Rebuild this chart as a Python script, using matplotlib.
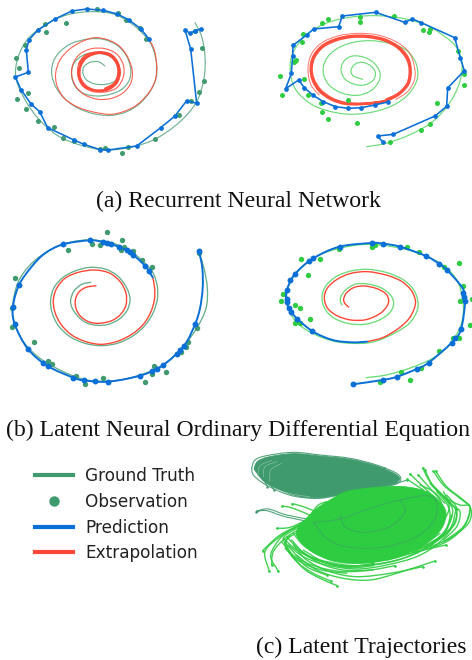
import matplotlib
matplotlib.use("Agg")
import matplotlib.pyplot as plt
import numpy as np
from matplotlib.path import Path
from matplotlib.patches import PathPatch
from matplotlib.lines import Line2D

W, H = 472, 660
DARK = "#3f9a6e"; BRIGHT = "#2ecc40"; BLUE = "#0a6fd6"; RED = "#ff4636"

captions = ["(a) Recurrent Neural Network", "(b) Latent Neural Ordinary Differential Equation", "(c) Latent Trajectories"]
legend_labels = ["Ground Truth", "Observation", "Prediction", "Extrapolation"]

# ---- panel a1 values
a1_truth = [(585,68),(605,110),(615,170),(612,235),(590,305),(540,365),(470,415),(400,440),(320,450),(240,435),(170,405),(110,350),(70,290),(47,230),(55,170),(85,115),(140,72),(200,45),(270,35),(340,42),(400,75),(445,120),(462,155),(470,195),(468,235),(450,275),(420,310),(380,335),(335,346),(285,342),(235,325),(195,297),(168,262),(155,222),(160,185),(180,155),(215,130),(265,117),(310,118),(350,135),(378,165),(392,205),(388,240),(365,268),(330,283),(290,288),(250,280),(225,258),(215,228),(218,198),(235,175),(262,161),(298,160),(332,170),(355,195),(360,222),(345,243),(318,253),(285,252),(260,240),(249,220),(252,200),(270,187),(295,185),(315,198)]
a1_pred = [(603,87),(585,92),(570,100),(555,90),(572,147),(590,310),(560,302),(525,348),(482,383),(410,438),(325,450),(300,449),(252,433),(222,420),(143,383),(119,335),(93,312),(63,269),(46,231),(85,217),(79,151),(87,119),(114,90),(165,57),(215,33),(260,27),(310,31),(352,42),(387,60),(422,86),(447,117)]
a1_extra = [(447,117),(463,150),(470,195),(466,240),(445,280),(410,315),(370,335),(330,343),(280,336),(235,322),(195,297),(172,260),(167,220),(180,180),(208,148),(245,125),(285,113),(325,120),(360,140),(385,175),(397,215),(392,250),(370,278),(335,295),(295,298),(255,285),(228,260),(215,225),(220,190),(240,162),(275,146),(315,146),(350,162),(370,195),(370,230),(352,262),(320,275),(280,275),(248,258),(233,225),(237,190),(258,165),(295,156),(330,162),(352,185),(360,218),(350,250),(322,270),(285,272),(252,258),(236,228),(240,195),(260,170),(295,158),(332,165),(353,190),(357,220),(345,250),(320,267),(285,270),(255,255),(240,228),(243,197),(262,172),(297,160),(330,168),(350,192),(354,222),(342,250),(315,265)]
a1_obs = [(47,173),(56,203),(51,296),(77,327),(114,363),(162,381),(188,415),(222,422),(300,446),(315,444),(365,460),(385,441),(465,416),(537,344),(573,303),(597,276),(612,243),(606,143),(585,92),(438,118),(420,84),(377,60),(355,38),(291,28),(199,69),(139,96),(134,72),(75,135),(85,279)]

# ---- panel a2 values
a2_truth = [(392,440),(450,430),(520,405),(590,365),(640,310),(670,250),(678,190),(660,140),(620,105),(570,75),(500,55),(420,47),(340,52),(270,70),(210,105),(170,160),(163,215),(180,270),(230,315),(300,338),(370,342),(450,325),(510,290),(543,240),(540,190),(510,150),(460,130),(400,122),(340,130),(290,155),(265,190),(263,225),(282,258),(320,280),(365,286),(405,272),(428,245),(432,218),(415,190),(385,172),(350,168),(325,182),(315,208),(325,235),(352,252),(385,255),(412,240),(418,218),(405,198),(380,187),(358,192),(345,210),(352,228),(380,238)]
a2_pred = [(440,426),(425,408),(472,403),(597,348),(632,319),(635,264),(685,212),(673,174),(656,113),(556,68),(529,57),(506,67),(419,37),(319,48),(308,80),(233,87),(213,104),(171,136),(170,167),(166,220),(149,266),(188,240),(205,263),(230,285),(262,305),(298,320),(337,325),(376,323),(416,315),(455,306)]
a2_extra = [(455,304),(415,309),(370,313),(325,311),(285,298),(250,273),(230,240),(224,205),(232,170),(258,138),(298,118),(345,108),(395,108),(445,118),(487,140),(515,172),(524,210),(518,250),(490,282),(455,300),(415,308),(370,311),(325,308),(287,295),(253,270),(233,238),(227,205),(235,172),(260,141),(300,121),(346,111),(395,111),(444,121),(485,143),(512,175),(521,210),(515,249),(488,280),(452,298)]
a2_extra_outer = [(250,285),(225,255),(216,210),(225,165),(255,130),(305,108),(365,100),(425,105),(480,125),(520,158),(536,205),(535,240),(515,275),(480,298)]
a2_obs = [(131,228),(137,284),(176,183),(181,179),(197,127),(201,101),(203,237),(216,284),(255,310),(257,335),(277,358),(258,70),(277,58),(372,50),(371,66),(473,48),(561,91),(581,88),(579,96),(667,152),(684,222),(684,254),(604,310),(582,372),(554,390),(462,427),(363,369),(336,300),(174,186)]

# ---- panel b1 values
b1_truth = [(598,85),(612,130),(622,190),(618,250),(590,310),(545,370),(490,420),(420,450),(340,468),(260,465),(190,440),(120,400),(70,350),(42,290),(38,240),(55,170),(95,115),(150,75),(210,52),(270,45),(340,55),(400,85),(445,125),(462,150),(472,185),(472,222),(460,262),(436,300),(400,332),(355,354),(305,362),(255,355),(210,335),(175,302),(156,262),(152,225),(162,188),(188,158),(225,138),(270,127),(315,132),(352,152),(378,185),(390,220),(382,255),(358,282),(325,298),(292,301),(258,293),(232,272),(216,248),(212,225),(222,198),(245,178),(272,172)]
b1_pred = [(597,78),(607,130),(608,190),(600,250),(585,298),(552,362),(488,421),(420,452),(323,470),(252,466),(220,458),(143,423),(83,371),(44,297),(39,245),(57,180),(95,125),(135,85),(189,58),(269,46),(309,51),(334,57),(380,76),(400,90),(435,122),(447,139),(458,157)]
b1_extra = [(458,157),(464,190),(463,225),(452,262),(430,298),(398,326),(355,348),(305,358),(258,350),(215,330),(183,298),(165,262),(160,225),(170,190),(195,160),(235,142),(285,135),(330,145),(362,172),(378,205),(378,240),(362,268),(335,287),(298,295),(265,290),(240,272),(228,250),(226,225),(236,202),(258,187),(288,182)]
b1_pred_marks = [(597,78),(585,298),(552,362),(540,375),(530,388),(488,421),(472,431),(455,438),(420,452),(323,470),(285,469),(252,466),(220,458),(143,423),(128,413),(83,371),(44,297),(39,245),(57,180),(189,58),(269,46),(309,51),(320,53),(334,57),(356,66),(380,76),(390,82),(400,90),(435,122),(447,139)]
b1_obs = [(320,21),(365,44),(277,57),(301,59),(203,75),(373,66),(400,78),(362,74),(425,105),(455,127),(45,158),(36,250),(35,305),(101,350),(145,407),(155,418),(227,453),(256,477),(308,460),(436,471),(456,447),(461,422),(497,440),(543,380),(558,366),(563,350),(590,309),(597,85)]

# ---- panel b2 values
b2_truth = [(390,458),(450,450),(520,430),(590,400),(640,360),(675,300),(682,240),(665,170),(620,120),(550,85),(470,65),(390,58),(310,70),(240,95),(185,140),(155,190),(155,240),(180,290),(230,325),(300,350),(380,355),(430,345),(480,322),(520,295),(543,258),(545,225),(530,190),(498,162),(450,142),(395,133),(345,138),(300,155),(270,182),(258,215),(266,250),(292,278),(335,295),(385,298),(430,285),(462,262),(473,235),(462,208),(432,187),(395,177),(360,177),(332,192),(316,212),(313,228),(318,240)]
b2_pred = [(350,478),(440,465),(484,455),(542,432),(578,413),(648,352),(675,313),(687,230),(680,190),(633,135),(610,117),(570,93),(492,65),(442,56),(408,54),(311,65),(232,100),(176,148),(153,195),(152,230),(168,265),(227,317),(290,345),(350,352),(393,350)]
b2_extra = [(393,350),(440,338),(485,312),(518,282),(535,250),(538,225),(525,195),(495,168),(450,150),(395,140),(345,145),(305,162),(275,188),(265,218),(275,250),(305,273),(345,285),(390,284),(430,267),(452,245),(458,225),(448,205),(420,190),(385,183),(355,187),(332,203),(323,222),(327,236),(338,246)]
b2_pred_marks = [(350,478),(440,465),(484,455),(542,432),(578,413),(647,355),(657,340),(675,313),(688,229),(685,215),(681,203),(633,135),(610,117),(570,93),(492,65),(442,56),(408,54),(311,65),(232,100),(220,107),(176,148),(163,165),(153,195),(152,222),(153,232),(160,250),(165,260),(182,283),(227,317)]
b2_obs = [(196,103),(252,103),(217,150),(141,208),(136,227),(177,241),(193,248),(222,282),(177,293),(192,293),(309,72),(408,65),(416,60),(513,67),(550,81),(624,127),(670,115),(681,184),(672,229),(708,222),(702,299),(669,340),(652,340),(610,378),(556,429),(521,466),(494,440),(431,470)]

# ---- panel c values
c_dark_ring = [(65,70),(75,45),(110,32),(190,22),(270,30),(360,40),(440,60),(500,85),(512,105),(490,120),(420,130),(350,145),(270,160),(200,155),(150,140),(100,115),(70,90)]
c_dark_outline = [(72,72),(82,50),(115,36),(190,26),(270,33),(360,43),(440,63),(497,88),(508,105),(480,120),(420,130),(350,144),(270,158),(203,153),(150,135),(103,110)]
c_dark_hole = [(265,82),(285,77),(310,80),(325,88),(300,93),(275,92)]
c_dark_streaks = [[(85,85),(90,62),(125,46)],[(100,95),(105,65),(140,50)],[(120,110),(122,75),(155,55)],[(140,135),(190,148),(240,155)]]
c_bright_outline = [(205,245),(255,195),(300,165),(350,140),(430,128),(520,125),(590,140),(630,170),(648,205),(635,250),(595,290),(535,322),(470,342),(400,352),(330,348),(265,330),(222,300),(200,270)]
c_bright_hole = [(383,205),(395,185),(420,175),(442,180),(445,195),(425,215),(400,222)]
c_dark_tails = [[(462,68),(470,105)],[(490,100),(475,115)],[(112,125),(100,100)],[(133,135),(110,105)],[(532,105),(490,118)]]
c_tails = [
 [(322,422),(270,400),(220,370),(180,320),(170,285),(215,255)],
 [(302,408),(250,385),(200,350),(165,300),(180,270)],
 [(290,390),(230,365),(190,320),(160,280),(200,250)],
 [(118,378),(105,320),(150,275),(215,235)],
 [(145,378),(122,330),(160,270),(215,240)],
 [(125,360),(130,320),(165,280),(220,245)],
 [(98,317),(150,270),(220,235)],
 [(140,250),(180,247),(230,225)],
 [(157,183),(190,190),(250,215)],
 [(187,176),(220,185),(270,205)],
 [(615,348),(500,385),(420,405),(340,400),(260,375),(200,330)],
 [(578,365),(480,385),(380,395),(300,380),(230,345),(190,300)],
 [(495,362),(420,375),(340,375),(270,355),(210,315)],
 [(430,355),(350,365),(280,350),(220,315)],
 [(648,300),(560,320),(470,345),(380,355),(300,345),(240,310)],
 [(635,270),(600,300),(520,325),(430,350),(340,352)],
 [(578,68),(600,110),(650,160),(690,180),(720,185),(705,240),(650,290),(560,320),(470,345)],
 [(610,78),(640,120),(690,160),(722,190),(715,235),(660,280),(600,305)],
 [(617,78),(650,125),(700,165),(720,190),(700,245),(640,290)],
 [(585,75),(610,125),(650,165),(655,200),(620,260)],
 [(565,90),(600,130),(630,165),(640,200)],
 [(540,87),(590,135),(625,170)],
 [(532,103),(580,135)],
 [(678,193),(660,250),(600,295),(510,325)],
]
c_grey_tails = [[(80,198),(115,192),(170,210),(250,225)],[(78,200),(110,197),(165,215),(240,230)]]
c_loops = [
 [(160,280),(200,315),(260,345),(340,362),(430,360),(520,340),(600,300),(650,250),(668,195),(640,155)],
 [(170,275),(215,320),(280,352),(360,368),(430,362)],
 [(175,300),(220,335),(290,360),(380,372),(470,360),(560,335),(625,295),(670,240),(680,190),(650,150)],
 [(155,290),(195,335),(260,365),(340,380),(430,375)],
 [(185,285),(230,330),(300,352),(380,362),(480,350),(570,320),(640,270),(665,210)],
 [(200,270),(240,315),(310,345),(400,352),(500,335),(590,295)],
 [(165,310),(210,350),(275,375),(350,385)],
 [(640,140),(665,180),(690,200),(680,245),(640,285)],
 [(600,115),(640,155),(675,190),(675,235),(625,285),(550,320)],
 [(220,250),(260,300),(330,335),(420,342)],
 [(190,265),(225,305),(290,340),(370,350),(460,345)],
 [(215,235),(240,285),(300,328),(380,345),(470,342),(560,312),(630,265)],
 [(620,140),(650,175),(660,215),(640,265),(590,300)],
 [(570,120),(610,140),(645,175)],
 [(290,170),(265,180),(245,205)],
]
c_inner_track = [(250,232),(330,222),(420,190),(510,165),(590,152),(620,175),(610,230),(550,280),(450,308),(350,305),(290,280),(250,232)]
c_inner_track2 = [(330,210),(345,245),(400,262),(480,245),(525,200),(510,165)]


def smooth(pts):
    p = np.asarray(pts, float)
    q = np.vstack([p[0], p, p[-1]])
    verts = [tuple(p[0])]; codes = [Path.MOVETO]
    for i in range(1, len(q) - 2):
        c1 = q[i] + (q[i+1] - q[i-1]) / 6
        c2 = q[i+1] - (q[i+2] - q[i]) / 6
        verts += [tuple(c1), tuple(c2), tuple(q[i+1])]
        codes += [Path.CURVE4] * 3
    return Path(verts, codes)

def curve(ax, pts, color, lw, alpha=1.0, z=2):
    ax.add_patch(PathPatch(smooth(pts), fc="none", ec=color, lw=lw, alpha=alpha, zorder=z, capstyle="round"))

def panel(fig, x, y, w, h):
    ax = fig.add_axes([x / W, 1 - (y + h) / H, w / W, h / H])
    ax.set_xlim(0, w * 3); ax.set_ylim(h * 3, 0); ax.axis("off")
    ax.patch.set_alpha(0)
    return ax

def dots(ax, pts, color, s, z=3):
    a = np.array(pts)
    ax.scatter(a[:, 0], a[:, 1], s=s, c=color, linewidths=0, zorder=z, clip_on=False)

fig = plt.figure(figsize=(W / 100, H / 100), dpi=100, facecolor="white")

# a1
ax = panel(fig, 0, 0, 236, 170)
curve(ax, a1_truth, DARK, 0.85, 0.75)
curve(ax, a1_extra, RED, 0.8, 0.85, 3)
curve(ax, a1_extra[-30:], RED, 1.2, 0.85, 3)
dots(ax, a1_obs, DARK, 13)
a = np.array(a1_pred); ax.plot(a[:, 0], a[:, 1], color=BLUE, lw=1.15, zorder=4, marker="o", ms=3.4, mew=0)

# a2
ax = panel(fig, 236, 0, 236, 170)
curve(ax, a2_truth, BRIGHT, 0.85, 0.7)
curve(ax, a2_extra, RED, 1.7, 0.95, 3)
curve(ax, a2_extra_outer, RED, 0.7, 0.75, 3)
dots(ax, a2_obs, BRIGHT, 13)
a = np.array(a2_pred); ax.plot(a[:, 0], a[:, 1], color=BLUE, lw=1.15, zorder=4, marker="o", ms=3.4, mew=0)

# b1
ax = panel(fig, 0, 225, 236, 170)
curve(ax, b1_truth, DARK, 0.95, 0.8)
curve(ax, b1_extra, RED, 1.0, 1, 3)
dots(ax, b1_obs, DARK, 15)
curve(ax, b1_pred, BLUE, 1.4, 1, 4)
dots(ax, b1_pred_marks, BLUE, 18, 5)

# b2
ax = panel(fig, 236, 225, 236, 170)
curve(ax, b2_truth, BRIGHT, 0.95, 0.7)
curve(ax, b2_extra, RED, 1.0, 1, 3)
dots(ax, b2_obs, BRIGHT, 15)
curve(ax, b2_pred, BLUE, 1.4, 1, 4)
dots(ax, b2_pred_marks, BLUE, 18, 5)

# c
ax = panel(fig, 230, 445, 242, 165)
def ring(outer, hole):
    oc = smooth(outer + outer[:1]); ic = smooth(hole + hole[:1])
    return Path(np.vstack([oc.vertices, ic.vertices]), np.concatenate([oc.codes, ic.codes]))
curve(ax, c_dark_ring + c_dark_ring[:1], DARK, 0.8, 0.9, 1)
ax.add_patch(PathPatch(ring(c_dark_outline, c_dark_hole), fc=DARK, ec=DARK, lw=0.6, zorder=1))
for t in c_dark_streaks:
    curve(ax, t, "white", 0.45, 0.4, 1.5)
for t in c_dark_tails + c_grey_tails:
    curve(ax, t, DARK, 0.8, 0.9, 1)
    dots(ax, t[:1], DARK, 3, 1)
for t in c_tails + c_loops:
    curve(ax, t, BRIGHT, 1.0, 0.9, 2)
for t in c_tails:
    dots(ax, t[:1], BRIGHT, 3.5, 2)
ax.add_patch(PathPatch(ring(c_bright_outline, c_bright_hole), fc=BRIGHT, ec=BRIGHT, lw=0.6, zorder=3))
curve(ax, c_inner_track, DARK, 0.8, 0.55, 4)
curve(ax, c_inner_track2, DARK, 0.8, 0.55, 4)

# captions
serif = "Liberation Serif"
fig.text(238 / W, 1 - 201 / H, captions[0], family=serif, fontsize=17.1, ha="center", va="center", color="#111111")
fig.text(238 / W, 1 - 430 / H, captions[1], family=serif, fontsize=17.1, ha="center", va="center", color="#111111")
fig.text(361.5 / W, 1 - 647 / H, captions[2], family=serif, fontsize=17.1, ha="center", va="center", color="#111111")

# legend
handles = [Line2D([], [], color=DARK, lw=3),
           Line2D([], [], color=DARK, ls="none", marker="o", ms=7.5, mew=0),
           Line2D([], [], color=BLUE, lw=3),
           Line2D([], [], color=RED, lw=3)]
fig.legend(handles, legend_labels, loc="upper left", bbox_to_anchor=(35 / W, 1 - 467 / H), frameon=False,
           handlelength=2.25, handletextpad=0.72, labelspacing=0.46, borderpad=0, borderaxespad=0,
           labelcolor="#222222", prop={"family": "DejaVu Sans", "size": 12.2})

fig.savefig("out.png", dpi=100)
